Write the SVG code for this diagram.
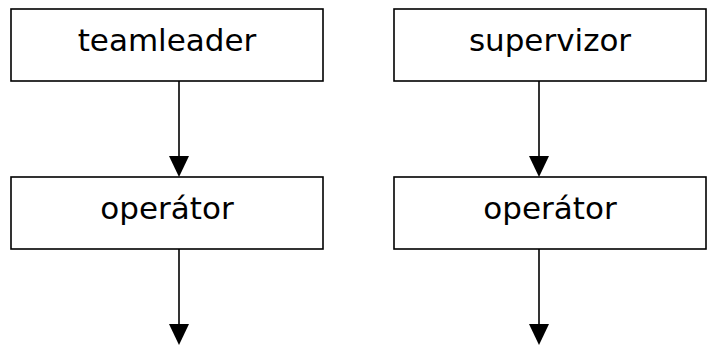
<svg xmlns="http://www.w3.org/2000/svg" width="707" height="345" viewBox="0 0 707 345">
  <style>
    .box { fill: #ffffff; stroke: #000000; stroke-width: 1.6; }
    .label { font-family: "DejaVu Sans", Verdana, sans-serif; font-size: 31px; fill: #000000; text-anchor: middle; }
    .edge { stroke: #000000; stroke-width: 1.6; fill: none; }
    .head { fill: #000000; }
  </style>
  <rect width="707" height="345" fill="#ffffff"/>

  <g id="teamleader">
    <rect class="box" x="11" y="9" width="312" height="72"/>
    <text class="label" x="167" y="51">teamleader</text>
  </g>
  <g id="operator-left">
    <rect class="box" x="11" y="177" width="312" height="72"/>
    <text class="label" x="167" y="219">operátor</text>
  </g>
  <g id="supervizor">
    <rect class="box" x="394" y="9" width="312" height="72"/>
    <text class="label" x="550" y="51">supervizor</text>
  </g>
  <g id="operator-right">
    <rect class="box" x="394" y="177" width="312" height="72"/>
    <text class="label" x="550" y="219">operátor</text>
  </g>

  <g id="connectors">
    <line class="edge" x1="179" y1="81" x2="179" y2="158"/>
    <polygon class="head" points="169,156 189,156 179,177"/>
    <line class="edge" x1="179" y1="249" x2="179" y2="326"/>
    <polygon class="head" points="169,324 189,324 179,345"/>
    <line class="edge" x1="539" y1="81" x2="539" y2="158"/>
    <polygon class="head" points="529,156 549,156 539,177"/>
    <line class="edge" x1="539" y1="249" x2="539" y2="326"/>
    <polygon class="head" points="529,324 549,324 539,345"/>
  </g>
</svg>
